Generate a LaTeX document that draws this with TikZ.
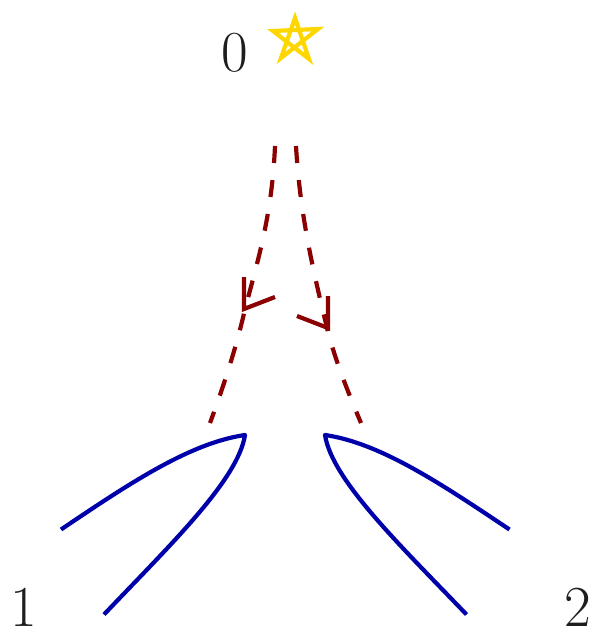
\documentclass[tikz,border=0pt]{standalone}
\tikzset{
 px/.style={x=1pt,y=-1pt},
 dashline/.style={draw={rgb,255:red,139;green,0;blue,0},line width=4.2pt,dash pattern=on 17pt off 17.2pt},
 tipline/.style={draw={rgb,255:red,139;green,0;blue,0},line width=4.2pt,line join=miter},
 blueline/.style={draw={rgb,255:red,0;green,0;blue,170},line width=4.2pt,line join=round},
 lab/.style={font=\fontsize{58}{58}\selectfont,text={rgb,255:red,30;green,30;blue,30},inner sep=0pt}
}
\begin{document}
\begin{tikzpicture}[px]
\useasboundingbox (0,0) rectangle (591,629);
\node[lab] (n0) at (235,53) {0};
\node[lab] (n1) at (24,607) {1};
\node[lab] (n2) at (578,607) {2};
\draw[draw={rgb,255:red,255;green,215;blue,0},line width=4.2pt,line join=miter,miter limit=10] (295,18) -- (309,59) -- (273,31) -- (318,29) -- (281,58) -- cycle;
\draw[dashline] (275,146) .. controls (272,215) and (258,260) .. (245,309) .. controls (237,345) and (224,385) .. (210,423);
\draw[dashline] (296,146) .. controls (300,215) and (313,270) .. (327,328) .. controls (335,360) and (348,392) .. (361,423);
\draw[tipline] (244,277) -- (244,309) -- (275,297);
\draw[tipline] (328,296) -- (328,328) -- (297,316);
\draw[blueline] (61,529.5) .. controls (130,483) and (190,443) .. (245,435) .. controls (238,480) and (170,545) .. (104,614.5);
\draw[blueline] (509.5,529.5) .. controls (440,483) and (380,443) .. (325,435) .. controls (332,480) and (400,545) .. (466.5,614.5);
\end{tikzpicture}
\end{document}
